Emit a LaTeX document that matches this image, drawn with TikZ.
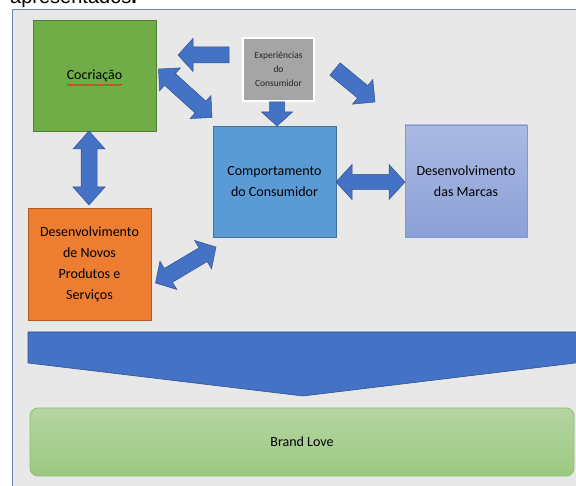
\documentclass[tikz,border=0pt]{standalone}
\usepackage{fontspec}
\setmainfont{Carlito}
\newfontfamily\arialfont{Liberation Sans}
\usetikzlibrary{calc,decorations.pathmorphing}

\definecolor{panelbg}{HTML}{E8E8E8}
\definecolor{panelline}{HTML}{6A86B8}
\definecolor{cgreen}{HTML}{70AD47}
\definecolor{cgreenline}{HTML}{507E32}
\definecolor{cgrey}{HTML}{A5A5A5}
\definecolor{cblue}{HTML}{5B9BD5}
\definecolor{cblueline}{HTML}{41719C}
\definecolor{clavtop}{HTML}{ABBAE3}
\definecolor{clavbot}{HTML}{8BA0D7}
\definecolor{clavline}{HTML}{8197D0}
\definecolor{corange}{HTML}{ED7D31}
\definecolor{corangeline}{HTML}{AE5A21}
\definecolor{arrowfill}{HTML}{4472C4}
\definecolor{arrowline}{HTML}{2F528F}
\definecolor{lovetop}{HTML}{B5D5A3}
\definecolor{lovebot}{HTML}{9BC980}
\definecolor{loveline}{HTML}{8DBF6C}

\tikzset{
  box/.style={draw, line width=0.8pt, inner sep=0pt, align=center,
    font=\fontsize{14}{21}\selectfont, text=black},
  blockarrow/.style={fill=arrowfill, draw=arrowline, line width=0.5pt, line join=miter},
}

% single block arrow: from, to, shaft half width, head half width, head length
\newcommand{\blockArrow}[5]{%
  \filldraw[blockarrow] ($(#1)!#3!90:(#2)$)
    -- ($(#2)!#5!(#1)!#3!90:(#2)$) -- ($(#2)!#5!(#1)!#4!90:(#2)$)
    -- (#2)
    -- ($(#2)!#5!(#1)!#4!-90:(#2)$) -- ($(#2)!#5!(#1)!#3!-90:(#2)$)
    -- ($(#1)!#3!-90:(#2)$) -- cycle;}

% double-headed block arrow: same arguments
\newcommand{\blockDArrow}[5]{%
  \filldraw[blockarrow] (#1)
    -- ($(#1)!#5!(#2)!#4!90:(#2)$) -- ($(#1)!#5!(#2)!#3!90:(#2)$)
    -- ($(#2)!#5!(#1)!#3!90:(#2)$) -- ($(#2)!#5!(#1)!#4!90:(#2)$)
    -- (#2)
    -- ($(#2)!#5!(#1)!#4!-90:(#2)$) -- ($(#2)!#5!(#1)!#3!-90:(#2)$)
    -- ($(#1)!#5!(#2)!#3!-90:(#2)$) -- ($(#1)!#5!(#2)!#4!-90:(#2)$)
    -- cycle;}

\begin{document}
\begin{tikzpicture}[x=1pt, y=-1pt]
\useasboundingbox (0,0) rectangle (576,486);
\fill[white] (0,0) rectangle (576,486);

% caption line above the panel
\node[anchor=base west, inner sep=0pt, font=\arialfont\fontsize{20}{24}\selectfont]
  (caption) at (10,4) {apresentados\textbf{.}};

% panel
\fill[panelbg] (12,10) rectangle (590,500);
\draw[panelline, line width=1pt] (12,500) -- (12,10) -- (590,10);

% boxes
\node[box, fill=cgreen, draw=cgreenline, minimum width=123pt, minimum height=111pt]
  (cocri) at (94.5,75.5) {Cocriação};
\draw[red, line width=0.5pt, decorate, decoration={snake, amplitude=0.6pt, segment length=2.5pt}]
  (67,85) -- (122,85);

\node[box, fill=cgrey, draw=white, line width=2pt, minimum width=71pt, minimum height=63pt,
  font=\fontsize{9.5}{14}\selectfont, text=black!85]
  (exper) at (278.5,69.5) {Experiências\\do\\Consumidor};

\node[box, fill=cblue, draw=cblueline, minimum width=123pt, minimum height=111pt]
  (comp) at (274.5,181.5) {Comportamento\\do Consumidor};

\node[box, draw=clavline, top color=clavtop, bottom color=clavbot,
  minimum width=122pt, minimum height=112pt]
  (marcas) at (466,181) {Desenvolvimento\\das Marcas};

\node[box, fill=corange, draw=corangeline, minimum width=123pt, minimum height=112pt]
  (novos) at (89.5,264) {Desenvolvimento\\de Novos\\Produtos e\\Serviços};

% big chevron towards Brand Love
\filldraw[fill=arrowfill, draw=arrowline, line width=0.6pt]
  (28,332) -- (600,332) -- (600,360) -- (303,396) -- (28,363) -- cycle;

\node[box, draw=loveline, top color=lovetop, bottom color=lovebot, rounded corners=8pt,
  minimum width=544pt, minimum height=68pt]
  (love) at (302,442) {Brand Love};

% connector end points
\coordinate (cocriS) at (89,131);
\coordinate (novosN) at (89,205);
\coordinate (experW) at (229,55);
\coordinate (cocriE) at (178,55);
\coordinate (cocriSE) at (158.5,69);
\coordinate (compNW) at (212,117.5);
\coordinate (experE) at (335,69);
\coordinate (marcasNW) at (375,102);
\coordinate (experS) at (277,102);
\coordinate (compN) at (277,126);
\coordinate (compE) at (336,182);
\coordinate (marcasW) at (405,182);
\coordinate (novosE) at (155.5,283);
\coordinate (compSW) at (216,247);

% block arrows
\blockDArrow{cocriS}{novosN}{8pt}{16pt}{18pt}
\blockArrow{experW}{cocriE}{8pt}{16.5pt}{15pt}
\blockDArrow{cocriSE}{compNW}{8pt}{15.5pt}{15.5pt}
\blockArrow{experE}{marcasNW}{8pt}{16pt}{16pt}
\blockArrow{experS}{compN}{7.5pt}{15.5pt}{14pt}
\blockDArrow{compE}{marcasW}{7.5pt}{17.5pt}{16pt}
\blockDArrow{novosE}{compSW}{8pt}{16.5pt}{15pt}
\end{tikzpicture}
\end{document}
